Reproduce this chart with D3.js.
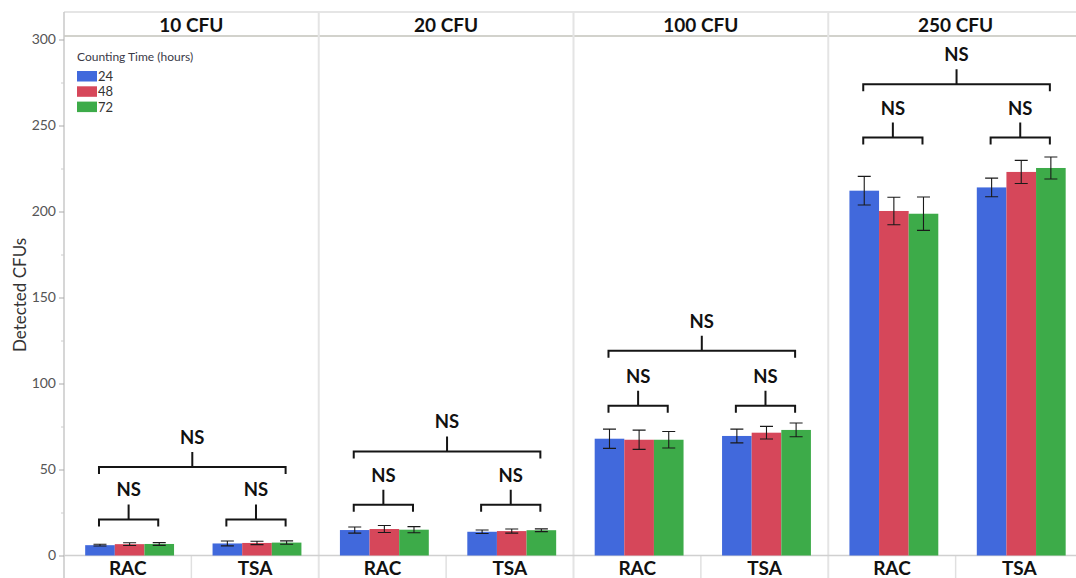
<!DOCTYPE html>
<html>
<head>
<meta charset="utf-8">
<script src="https://cdn.jsdelivr.net/npm/d3@7"></script>
<style>
  html, body { margin: 0; padding: 0; background: #fff; }
  svg { display: block; font-family: Lato, "Open Sans", sans-serif; }
</style>
</head>
<body>
<script>
// Inoculum levels (panels), growth media, and counting times
const panels = ["10 CFU", "20 CFU", "100 CFU", "250 CFU"];
const media = ["RAC", "TSA"];
const times = ["24", "48", "72"];

// Mean detected CFUs per (panel, medium): RAC10, TSA10, RAC20, TSA20, RAC100, TSA100, RAC250, TSA250
const mean24 = [6.0, 7.0, 14.8, 13.8, 67.9, 69.5, 212.1, 214.0];
const mean48 = [6.6, 7.3, 15.4, 14.2, 67.3, 71.4, 200.3, 223.0];
const mean72 = [6.7, 7.5, 15.0, 14.7, 67.3, 73.0, 198.7, 225.3];

// Error bar half-lengths, same order
const err24 = [0.5, 1.4, 1.8, 1.0, 5.6, 4.0, 8.3, 5.4];
const err48 = [0.8, 1.0, 2.0, 1.2, 5.6, 3.7, 8.0, 6.7];
const err72 = [0.8, 1.0, 1.8, 0.8, 4.8, 4.0, 9.7, 6.4];

// Significance brackets: within-medium level (per panel/medium) and between-media level (per panel)
const innerLevel = [21, 21, 29.5, 29.5, 87, 87, 243, 243];
const outerLevel = [51.5, 60.5, 119, 274];
const sigLabel = "NS";

const yTicks = [0, 50, 100, 150, 200, 250, 300];
const yMinorTicks = [25, 75, 125, 175, 225, 275];

const colors = { "24": "#4169dc", "48": "#d6475a", "72": "#3dab49" };
const means = { "24": mean24, "48": mean48, "72": mean72 };
const errs = { "24": err24, "48": err48, "72": err72 };

const W = 1076, H = 578;
const plotLeft = 64, plotRight = 1083, frameTop = 12, headerBottom = 36, base = 555.5;

const svg = d3.select("body").append("svg").attr("width", W).attr("height", H);

const x0 = d3.scaleBand().domain(panels).range([plotLeft, plotRight]);
const x1 = d3.scaleBand().domain(media).range([0, x0.bandwidth()]);
const x2 = d3.scaleBand().domain(times).range([0, x1.bandwidth()]).paddingOuter(0.65).align(0.55);
const y = d3.scaleLinear().domain([0, 300]).range([base, 39.5]);

const frameColor = "#dcdcdc";

// Frame: top border, header bottom line, panel dividers
svg.append("line").attr("x1", plotLeft).attr("x2", W).attr("y1", frameTop).attr("y2", frameTop)
  .attr("stroke", frameColor).attr("stroke-width", 1.5);
svg.append("line").attr("x1", plotLeft).attr("x2", W).attr("y1", headerBottom).attr("y2", headerBottom)
  .attr("stroke", "#d2d2cc").attr("stroke-width", 2);
panels.forEach((p, i) => {
  if (i === 0) return;
  svg.append("line").attr("x1", x0(p)).attr("x2", x0(p)).attr("y1", frameTop).attr("y2", H)
    .attr("stroke", "#e4e4e4").attr("stroke-width", 2);
});
// Medium separators in the category label strip
panels.forEach(p => {
  const xs = x0(p) + x1("TSA");
  svg.append("line").attr("x1", xs).attr("x2", xs).attr("y1", base).attr("y2", H)
    .attr("stroke", "#e0e0e0").attr("stroke-width", 1.5);
});
// Left frame / axis line and x-axis baseline
svg.append("line").attr("x1", plotLeft).attr("x2", plotLeft).attr("y1", frameTop).attr("y2", H)
  .attr("stroke", "#c8c8c8").attr("stroke-width", 1.5);
svg.append("line").attr("x1", plotLeft).attr("x2", W).attr("y1", base).attr("y2", base)
  .attr("stroke", "#d0d0d0").attr("stroke-width", 1.5);

// Panel titles
svg.selectAll("text.panel").data(panels).join("text")
  .attr("class", "panel")
  .attr("x", d => x0(d) + x0.bandwidth() / 2)
  .attr("y", 31.5)
  .attr("text-anchor", "middle")
  .attr("font-size", 19).attr("font-weight", 700).attr("fill", "#111")
  .text(d => d);

// Y axis
const yAxis = d3.axisLeft(y).tickValues(yTicks).tickSize(5).tickPadding(3);
const gy = svg.append("g").attr("transform", `translate(${plotLeft},0)`).call(yAxis);
gy.select(".domain").remove();
gy.selectAll(".tick line").attr("stroke", "#aaa");
gy.selectAll(".tick text").attr("fill", "#555").attr("font-size", 14)
  .attr("font-family", "Lato, 'Open Sans', sans-serif");
const gyMinor = svg.append("g").attr("transform", `translate(${plotLeft},0)`)
  .call(d3.axisLeft(y).tickValues(yMinorTicks).tickSize(3).tickFormat(""));
gyMinor.select(".domain").remove();
gyMinor.selectAll(".tick line").attr("stroke", "#ccc");

svg.append("text")
  .attr("transform", `translate(19,295) rotate(-90)`)
  .attr("text-anchor", "middle").attr("dominant-baseline", "central")
  .attr("font-size", 17).attr("fill", "#333")
  .text("Detected CFUs");

// Bars and error bars
const rows = [];
panels.forEach((p, i) => {
  media.forEach((m, j) => {
    times.forEach(t => {
      const idx = i * 2 + j;
      rows.push({ p, m, t, v: means[t][idx], e: errs[t][idx] });
    });
  });
});

const gBars = svg.append("g");
gBars.selectAll("rect").data(rows).join("rect")
  .attr("x", d => x0(d.p) + x1(d.m) + x2(d.t))
  .attr("width", x2.bandwidth())
  .attr("y", d => y(d.v))
  .attr("height", d => y(0) - y(d.v))
  .attr("fill", d => colors[d.t]);

const capW = 13;
const gErr = svg.append("g").attr("stroke", "#1a1a1a").attr("stroke-width", 1.1).attr("fill", "none");
rows.forEach(d => {
  const cx = x0(d.p) + x1(d.m) + x2(d.t) + x2.bandwidth() / 2;
  const yHi = y(d.v + d.e), yLo = y(d.v - d.e);
  gErr.append("path")
    .attr("d", `M${cx},${yHi}V${yLo}M${cx - capW / 2},${yHi}H${cx + capW / 2}M${cx - capW / 2},${yLo}H${cx + capW / 2}`);
});

// Significance brackets
const gSig = svg.append("g");
function bracket(xa, xb, level) {
  const yy = y(level), xm = (xa + xb) / 2;
  gSig.append("path")
    .attr("d", `M${xa},${yy + 7}V${yy}H${xb}V${yy + 7}M${xm},${yy}V${yy - 15}`)
    .attr("fill", "none").attr("stroke", "#151515").attr("stroke-width", 2);
  gSig.append("text")
    .attr("x", xm).attr("y", yy - 23)
    .attr("text-anchor", "middle")
    .attr("font-size", 18.5).attr("font-weight", 700).attr("fill", "#111")
    .text(sigLabel);
}
const barCenter = (p, m, t) => x0(p) + x1(m) + x2(t) + x2.bandwidth() / 2;
panels.forEach((p, i) => {
  media.forEach((m, j) => {
    bracket(barCenter(p, m, "24") - 1, barCenter(p, m, "72") - 1, innerLevel[i * 2 + j]);
  });
  bracket(barCenter(p, "RAC", "24") - 1, barCenter(p, "TSA", "72") - 1, outerLevel[i]);
});

// Category labels below axis
const catRows = [];
panels.forEach(p => media.forEach(m => catRows.push({ p, m })));
svg.selectAll("text.cat").data(catRows).join("text")
  .attr("class", "cat")
  .attr("x", d => x0(d.p) + x1(d.m) + x1.bandwidth() / 2)
  .attr("y", 575)
  .attr("text-anchor", "middle")
  .attr("font-size", 19).attr("font-weight", 700).attr("fill", "#111")
  .text(d => d.m);

// Legend
const lg = svg.append("g");
lg.append("text").attr("x", 77).attr("y", 61)
  .attr("font-size", 12).attr("fill", "#3a3a48")
  .text("Counting Time (hours)");
times.forEach((t, k) => {
  const yy = 71 + k * 15.3;
  lg.append("rect").attr("x", 77).attr("y", yy).attr("width", 20).attr("height", 10.5)
    .attr("fill", colors[t]);
  lg.append("text").attr("x", 98).attr("y", yy + 10)
    .attr("font-size", 13).attr("fill", "#333").text(t);
});
</script>
</body>
</html>
